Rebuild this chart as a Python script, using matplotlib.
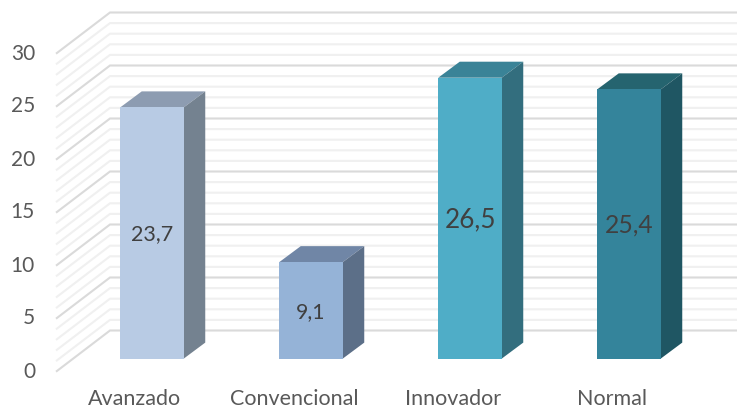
import numpy as np
import matplotlib
matplotlib.use("Agg")
import matplotlib.pyplot as plt

categories = ["Avanzado", "Convencional", "Innovador", "Normal"]
values = [23.7, 9.1, 26.5, 25.4]
value_labels = ["23,7", "9,1", "26,5", "25,4"]
label_sizes = [15.5, 15.3, 18.8, 17.8]
y_ticks = [0, 5, 10, 15, 20, 25, 30]
front_colors = ["#b8cbe4", "#95b3d7", "#4fadc7", "#34849b"]
top_colors = ["#8d9cb1", "#7086a6", "#3a8397", "#25646f"]
side_colors = ["#748290", "#5c6f88", "#336e7e", "#1f5663"]

W, H = 737, 409
PX_X = 159.0     # pixels per category
PX_Y = 10.6      # pixels per value unit
X0 = 152.0       # pixel of first category centre
Y0 = 358.6       # pixel of bar base

fig = plt.figure(figsize=(W / 100, H / 100), dpi=100)
ax = fig.add_axes([0, 0, 1, 1])
ax.set_xlim(-X0 / PX_X, (W - X0) / PX_X)
ax.set_ylim(-(H - Y0) / PX_Y, Y0 / PX_Y)
ax.axis("off")

# pseudo-3D geometry, in data units
wall_left = (56 - X0) / PX_X
wall_back = (110 - X0) / PX_X
wall_right = (W - X0) / PX_X
wall_front_dy = -(371.7 - Y0) / PX_Y
wall_back_dy = (Y0 - 330.5) / PX_Y
bar_w = 63.5 / PX_X
depth_x = 21.5 / PX_X
depth_y = 16 / PX_Y

# walls' gridlines
for v in range(0, 31):
    major = v % 5 == 0
    c = "#dadada" if major else "#f0f0f0"
    z = 2 if major else 1
    ax.plot([wall_left, wall_back, wall_right],
            [v + wall_front_dy, v + wall_back_dy, v + wall_back_dy],
            color=c, lw=1.5, zorder=z, solid_joinstyle="miter", solid_capstyle="butt")

x = np.arange(len(categories))
ax.bar(x, values, width=bar_w, color=front_colors, zorder=5, edgecolor="none")
for i, v in enumerate(values):
    l, r = x[i] - bar_w / 2, x[i] + bar_w / 2
    ax.fill([l, r, r + depth_x, l + depth_x], [v, v, v + depth_y, v + depth_y],
            color=top_colors[i], lw=0, zorder=4)
    ax.fill([r, r + depth_x, r + depth_x, r], [0, depth_y, v + depth_y, v],
            color=side_colors[i], lw=0, zorder=4)
    ax.text(x[i], v / 2 - 1.5 / PX_Y, value_labels[i], ha="center", va="center", family="Lato",
            fontsize=label_sizes[i], color="#404040", zorder=6)
    ax.text(x[i] - 17 / PX_X, -(399 - Y0) / PX_Y, categories[i], ha="center", va="center",
            family="Lato", fontsize=15.5, color="#595959")

for t in y_ticks:
    ax.text((35 - X0) / PX_X, t - (371.5 - Y0) / PX_Y, str(t), ha="right", va="center",
            family="Lato", fontsize=15, color="#595959")

fig.savefig("out.png", dpi=100)
